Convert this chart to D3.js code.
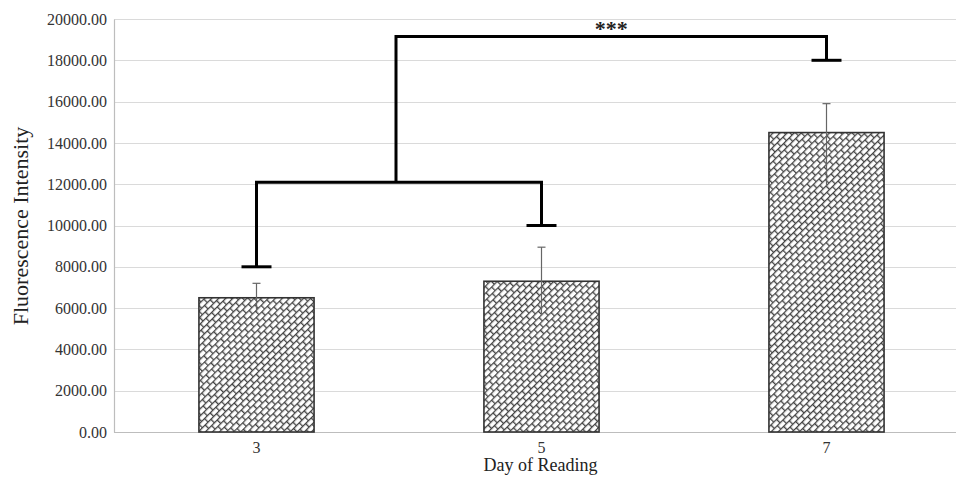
<!DOCTYPE html>
<html><head><meta charset="utf-8">
<script src="https://cdn.jsdelivr.net/npm/d3@7"></script>
<style>body{margin:0;background:#fff}svg{display:block}svg text{font-family:"Liberation Serif","Times New Roman",Times,serif}</style>
</head><body>
<svg id="c" width="956" height="483"></svg>
<script>
const categories = ["3", "5", "7"];
const values = [6500, 7300, 14500];
const errUp = [700, 1650, 1400];
const errDown = [700, 1650, 2600];
const yTicks = [0, 2000, 4000, 6000, 8000, 10000, 12000, 14000, 16000, 18000, 20000];
// significance brackets: [fromCat, toCat, leftFootY, rightFootY, topY]
const bracket1 = ["3", "5", 8000, 10000, 12100];
const bracket2Top = 19150, bracket2RightFoot = 18000;
const sigLabel = "***";
const xTitle = "Day of Reading", yTitle = "Fluorescence Intensity";

const svg = d3.select("#c");
const m = {l: 114, r: 969, t: 19, b: 432};
const x = d3.scaleBand().domain(categories).range([m.l, m.r]).paddingInner(0.596).paddingOuter(0.298);
const y = d3.scaleLinear().domain([0, 20000]).range([m.b, m.t]);
const font = '"Liberation Serif","Times New Roman",Times,serif';

// pattern
const defs = svg.append("defs");
const p = defs.append("pattern").attr("id", "hatch").attr("patternUnits", "userSpaceOnUse")
  .attr("width", 8).attr("height", 10).attr("patternTransform", "rotate(-45)");
p.append("rect").attr("width", 8).attr("height", 10).attr("fill", "#fff");
p.append("path").attr("d", "M0,0.6H8M0,5.6H8M0.6,0V5M4.6,5V10")
  .attr("stroke", "#444").attr("stroke-width", 1.4).attr("fill", "none");

// grid
svg.append("g").selectAll("line").data(yTicks.slice(1)).join("line")
  .attr("x1", m.l).attr("x2", 956).attr("y1", d => Math.round(y(d)) + 0.5).attr("y2", d => Math.round(y(d)) + 0.5)
  .attr("stroke", "#dadada").attr("stroke-width", 1.2);

// y axis
const ya = svg.append("g").attr("transform", `translate(${m.l},0)`)
  .call(d3.axisLeft(y).tickValues(yTicks).tickFormat(d => d3.format(".2f")(d)).tickSize(0).tickPadding(7));
ya.attr("font-family", null);
ya.select(".domain").attr("stroke", "#bdbdbd").attr("stroke-width", 1.2);
ya.selectAll("text").style("font-family", font).attr("font-size", 16).attr("fill", "#333");

// x axis
const xa = svg.append("g").attr("transform", `translate(0,${m.b})`)
  .call(d3.axisBottom(x).tickSize(0).tickPadding(10));
xa.attr("font-family", null);
xa.select(".domain").remove();
xa.selectAll("text").style("font-family", font).attr("font-size", 16).attr("fill", "#333");
svg.append("line").attr("x1", m.l).attr("x2", 956).attr("y1", m.b + 0.5).attr("y2", m.b + 0.5)
  .attr("stroke", "#bdbdbd").attr("stroke-width", 1.2);

// bars
svg.append("g").selectAll("rect").data(values).join("rect")
  .attr("x", (d, i) => x(categories[i])).attr("width", x.bandwidth())
  .attr("y", d => y(d)).attr("height", d => y(0) - y(d))
  .attr("fill", "url(#hatch)").attr("stroke", "#333").attr("stroke-width", 1.6);

// error bars
const eb = svg.append("g").attr("stroke", "#666").attr("stroke-width", 1.2);
values.forEach((v, i) => {
  const cx = x(categories[i]) + x.bandwidth() / 2;
  eb.append("line").attr("x1", cx).attr("x2", cx).attr("y1", y(v + errUp[i])).attr("y2", y(v - errDown[i]));
  eb.append("line").attr("x1", cx - 4).attr("x2", cx + 4).attr("y1", y(v + errUp[i])).attr("y2", y(v + errUp[i]));
});

// brackets
const cxOf = c => x(c) + x.bandwidth() / 2;
const bk = svg.append("g").attr("stroke", "#000").attr("stroke-width", 3).attr("fill", "none");
const bx1 = cxOf(bracket1[0]), bx2 = cxOf(bracket1[1]);
bk.append("path").attr("d", `M${bx1},${y(bracket1[2])}V${y(bracket1[4])}H${bx2}V${y(bracket1[3])}`);
bk.append("line").attr("x1", bx1 - 15).attr("x2", bx1 + 15).attr("y1", y(bracket1[2])).attr("y2", y(bracket1[2]));
bk.append("line").attr("x1", bx2 - 15).attr("x2", bx2 + 15).attr("y1", y(bracket1[3])).attr("y2", y(bracket1[3]));
const b2x1 = (bx1 + bx2) / 2 - 3, b2x2 = cxOf("7");
bk.append("path").attr("d", `M${b2x1},${y(bracket1[4])}V${y(bracket2Top)}H${b2x2}V${y(bracket2RightFoot)}`);
bk.append("line").attr("x1", b2x2 - 15).attr("x2", b2x2 + 15).attr("y1", y(bracket2RightFoot)).attr("y2", y(bracket2RightFoot));
svg.append("text").attr("x", (b2x1 + b2x2) / 2).attr("y", y(bracket2Top) - 1)
  .attr("text-anchor", "middle").style("font-family", font).attr("font-size", 22).attr("font-weight", "bold")
  .attr("fill", "#222").text(sigLabel);

// titles
svg.append("text").attr("x", (m.l + m.r) / 2 - 1).attr("y", 471).attr("text-anchor", "middle")
  .style("font-family", font).attr("font-size", 18).attr("fill", "#222").text(xTitle);
svg.append("text").attr("transform", "translate(28,226) rotate(-90)").attr("text-anchor", "middle")
  .style("font-family", font).attr("font-size", 22).attr("fill", "#222").text(yTitle);
</script>
</body></html>
